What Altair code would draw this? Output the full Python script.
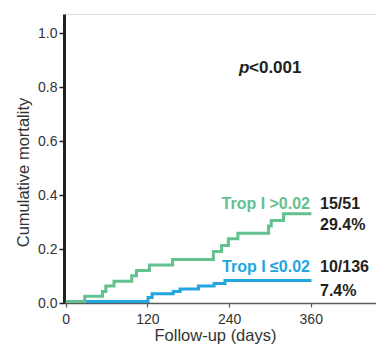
import altair as alt
import pandas as pd

# Kaplan-Meier step curves: day of each event and cumulative mortality after it
days_high = [0, 28, 54, 59, 71, 97, 104, 123, 157, 217, 229, 239, 253, 298, 302, 320, 361]
mort_high = [0, 0.019, 0.037, 0.057, 0.075, 0.095, 0.115, 0.135, 0.156, 0.185, 0.207,
             0.232, 0.253, 0.280, 0.300, 0.325, 0.325]
days_low = [0, 121, 127, 158, 168, 195, 218, 234, 361]
mort_low = [0, 0.015, 0.029, 0.037, 0.046, 0.057, 0.067, 0.078, 0.078]

group_labels = ["Trop I >0.02", "Trop I \u22640.02"]
group_counts = ["15/51", "10/136"]
group_rates = ["29.4%", "7.4%"]
group_colors = ["#63c08f", "#23a6e0"]

x_ticks = [0, 120, 240, 360]
y_ticks = [0.0, 0.2, 0.4, 0.6, 0.8, 1.0]

SANS = "Liberation Sans, Arial, Helvetica, sans-serif"
INK = "#231f20"

high = pd.DataFrame({"day": days_high, "mort": mort_high})
low = pd.DataFrame({"day": days_low, "mort": mort_low})

x_enc = alt.X(
    "day:Q",
    scale=alt.Scale(domain=[-2.5, 455.9], nice=False, zero=False),
    axis=alt.Axis(
        values=x_ticks, format="d", title="Follow-up (days)",
        titleX=151, titleY=37, titleBaseline="alphabetic", titleAnchor="middle",
        titleAlign="center",
        domainColor="#5a5a5a", domainWidth=1.5,
        tickColor="#5a5a5a", tickSize=4, tickWidth=1.2,
        labelFont=SANS, labelFontSize=14, labelColor="#333333", labelPadding=5,
        titleFont=SANS, titleFontSize=16.5, titleFontWeight="normal", titleColor="#333333",
        grid=False, labelFlush=False,
    ),
)
y_enc = alt.Y(
    "mort:Q",
    scale=alt.Scale(domain=[0, 1.0704], nice=False, zero=False),
    axis=alt.Axis(
        values=y_ticks, format=".1f", title="Cumulative mortality",
        titleX=-41, titleY=158, titleAngle=-90, titleBaseline="middle",
        titleAlign="center",
        domainColor=INK, domainWidth=3,
        tickColor=INK, tickSize=5, tickWidth=1.5,
        labelFont=SANS, labelFontSize=14, labelColor="#333333", labelPadding=2,
        titleFont=SANS, titleFontSize=16.5, titleFontWeight="normal", titleColor="#333333",
        grid=False, labelFlush=False,
    ),
)

line_low = alt.Chart(low).mark_line(
    interpolate="step-after", color=group_colors[1], strokeWidth=3, yOffset=-1.5,
    strokeCap="butt", clip=True,
).encode(x=x_enc, y=y_enc)

line_high = alt.Chart(high).mark_line(
    interpolate="step-after", color=group_colors[0], strokeWidth=3, yOffset=-1.5,
    strokeCap="butt", clip=True,
).encode(x=x_enc, y=y_enc)


def label(text, x, y, color, align, size=16, style="normal"):
    return alt.Chart(pd.DataFrame({"t": [text]})).mark_text(
        align=align, baseline="alphabetic", font=SANS, fontSize=size,
        fontWeight="bold", fontStyle=style, color=color,
    ).encode(x=alt.value(x), y=alt.value(y), text="t:N")


labels = [
    label(group_labels[0], 246, 195, group_colors[0], "right"),
    label(group_counts[0], 256, 195, INK, "left"),
    label(group_rates[0], 256, 216, INK, "left"),
    label(group_labels[1], 246, 258, group_colors[1], "right"),
    label(group_counts[1], 256, 258, INK, "left"),
    label(group_rates[1], 256, 282, INK, "left"),
    label("p", 175, 59, INK, "left", size=17, style="italic"),
    label("<0.001", 185, 59, INK, "left", size=17),
]

chart = alt.layer(line_low, line_high, *labels).properties(
    width=312,
    height=289,
    autosize=alt.AutoSizeParams(type="none"),
    padding={"left": 64, "top": 14, "right": 0, "bottom": 41},
).configure_view(
    fill="#ecead9", stroke=None,
).configure(background="white")

chart.save("out.html", embed_options={"renderer": "svg", "actions": False})
